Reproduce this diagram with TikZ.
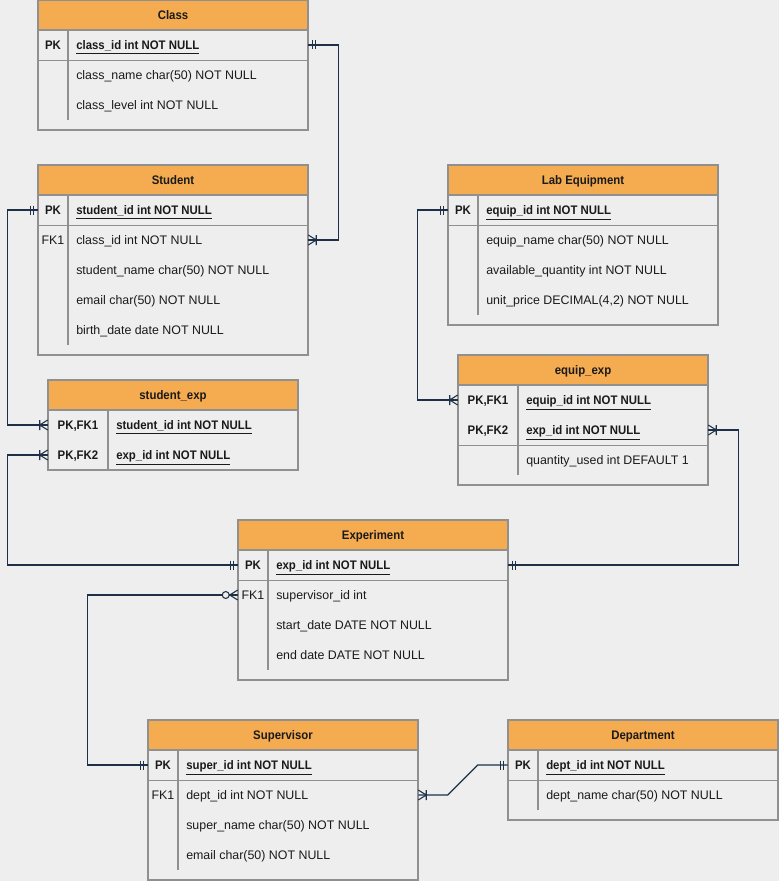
\documentclass[tikz,border=0pt]{standalone}
\usepackage{fontspec}
\setmainfont{Liberation Sans}
\newfontfamily\bnar{Liberation Sans}[FakeStretch=0.92]
\usetikzlibrary{fit}
\definecolor{bgc}{HTML}{EEEEEE}
\definecolor{hdrc}{HTML}{F5AB50}
\definecolor{bordc}{HTML}{909090}
\definecolor{connc}{HTML}{1D3048}
\definecolor{txtc}{HTML}{1A1A1A}
\newcommand{\fs}{\fontsize{9.3}{11}\selectfont}
\tikzset{
  tblline/.style={draw=bordc, line width=0.8pt},
  hdrbox/.style={inner sep=0pt, draw=bordc, fill=hdrc, line width=0.8pt},
  hdrtext/.style={anchor=base, yshift=-3.4pt, inner sep=0pt, font=\bnar\bfseries\fs, text=txtc},
  rowbox/.style={inner sep=0pt},
  keyb/.style={anchor=base, yshift=-3.4pt, inner sep=0pt, font=\bnar\bfseries\fs, text=txtc},
  keyn/.style={anchor=base, yshift=-3.4pt, inner sep=0pt, font=\fs, text=txtc},
  fldb/.style={anchor=base west, yshift=-3.4pt, inner sep=0pt, font=\bnar\bfseries\fs, text=txtc},
  fldn/.style={anchor=base west, yshift=-3.4pt, inner sep=0pt, font=\fs, text=txtc},
  conn/.style={draw=connc, line width=0.8pt},
  mandone/.pic={\draw[conn] (4,-4.5) -- (4,4.5) (7.5,-4.5) -- (7.5,4.5);},
  onemany/.pic={\draw[conn] (0,-5) -- (8,0) -- (0,5) (8,-5) -- (8,5);},
  zeromany/.pic={\draw[conn] (0,-5) -- (8,0) -- (0,5); \draw[conn, fill=bgc] (12,0) circle[radius=2.6pt];},
}
\newcommand{\ul}[1]{\underline{#1}}
\begin{document}
\begin{tikzpicture}[x=0.75pt,y=-0.75pt]
\fill[bgc] (0,0) rectangle (779,881);
\useasboundingbox (0,0) rectangle (779,881);

% ---------- Class ----------
\draw[tblline, fill=bgc] (38,0) rectangle (308,130);
\node[hdrbox, fit={(38,0)(308,30)}] (cls-h) {};
\node[hdrtext] (cls-t) at (cls-h.center) {Class};
\node[rowbox, fit={(38,30)(308,60)}] (cls-r1) {};
\node[rowbox, fit={(38,60)(308,90)}] (cls-r2) {};
\node[rowbox, fit={(38,90)(308,120)}] (cls-r3) {};
\draw[tblline] (cls-r1.south west) -- (cls-r1.south east);
\draw[tblline] (68,30) -- (68,120);
\node[keyb] (cls-k1) at (53,45) {PK};
\node[fldb] (cls-f1) at (76,45) {\ul{class\_id int NOT NULL}};
\node[fldn] (cls-f2) at (76,75) {class\_name char(50) NOT NULL};
\node[fldn] (cls-f3) at (76,105) {class\_level int NOT NULL};

% ---------- Student ----------
\draw[tblline, fill=bgc] (38,165) rectangle (308,355);
\node[hdrbox, fit={(38,165)(308,195)}] (stu-h) {};
\node[hdrtext] (stu-t) at (stu-h.center) {Student};
\node[rowbox, fit={(38,195)(308,225)}] (stu-r1) {};
\node[rowbox, fit={(38,225)(308,255)}] (stu-r2) {};
\node[rowbox, fit={(38,255)(308,285)}] (stu-r3) {};
\node[rowbox, fit={(38,285)(308,315)}] (stu-r4) {};
\node[rowbox, fit={(38,315)(308,345)}] (stu-r5) {};
\draw[tblline] (stu-r1.south west) -- (stu-r1.south east);
\draw[tblline] (68,195) -- (68,345);
\node[keyb] (stu-k1) at (53,210) {PK};
\node[fldb] (stu-f1) at (76,210) {\ul{student\_id int NOT NULL}};
\node[keyn] (stu-k2) at (53,240) {FK1};
\node[fldn] (stu-f2) at (76,240) {class\_id int NOT NULL};
\node[fldn] (stu-f3) at (76,270) {student\_name char(50) NOT NULL};
\node[fldn] (stu-f4) at (76,300) {email char(50) NOT NULL};
\node[fldn] (stu-f5) at (76,330) {birth\_date date NOT NULL};

% ---------- Lab Equipment ----------
\draw[tblline, fill=bgc] (448,165) rectangle (718,325);
\node[hdrbox, fit={(448,165)(718,195)}] (lab-h) {};
\node[hdrtext] (lab-t) at (lab-h.center) {Lab Equipment};
\node[rowbox, fit={(448,195)(718,225)}] (lab-r1) {};
\node[rowbox, fit={(448,225)(718,255)}] (lab-r2) {};
\node[rowbox, fit={(448,255)(718,285)}] (lab-r3) {};
\node[rowbox, fit={(448,285)(718,315)}] (lab-r4) {};
\draw[tblline] (lab-r1.south west) -- (lab-r1.south east);
\draw[tblline] (478,195) -- (478,315);
\node[keyb] (lab-k1) at (463,210) {PK};
\node[fldb] (lab-f1) at (486,210) {\ul{equip\_id int NOT NULL}};
\node[fldn] (lab-f2) at (486,240) {equip\_name char(50) NOT NULL};
\node[fldn] (lab-f3) at (486,270) {available\_quantity int NOT NULL};
\node[fldn] (lab-f4) at (486,300) {unit\_price DECIMAL(4,2) NOT NULL};

% ---------- student_exp ----------
\draw[tblline, fill=bgc] (48,380) rectangle (298,470);
\node[hdrbox, fit={(48,380)(298,410)}] (sx-h) {};
\node[hdrtext] (sx-t) at (sx-h.center) {student\_exp};
\node[rowbox, fit={(48,410)(298,440)}] (sx-r1) {};
\node[rowbox, fit={(48,440)(298,470)}] (sx-r2) {};
\draw[tblline] (108,410) -- (108,470);
\node[keyb] (sx-k1) at (78,425) {PK,FK1};
\node[fldb] (sx-f1) at (116,425) {\ul{student\_id int NOT NULL}};
\node[keyb] (sx-k2) at (78,455) {PK,FK2};
\node[fldb] (sx-f2) at (116,455) {\ul{exp\_id int NOT NULL}};

% ---------- equip_exp ----------
\draw[tblline, fill=bgc] (458,355) rectangle (708,485);
\node[hdrbox, fit={(458,355)(708,385)}] (ex-h) {};
\node[hdrtext] (ex-t) at (ex-h.center) {equip\_exp};
\node[rowbox, fit={(458,385)(708,415)}] (ex-r1) {};
\node[rowbox, fit={(458,415)(708,445)}] (ex-r2) {};
\node[rowbox, fit={(458,445)(708,475)}] (ex-r3) {};
\draw[tblline] (ex-r2.south west) -- (ex-r2.south east);
\draw[tblline] (518,385) -- (518,475);
\node[keyb] (ex-k1) at (488,400) {PK,FK1};
\node[fldb] (ex-f1) at (526,400) {\ul{equip\_id int NOT NULL}};
\node[keyb] (ex-k2) at (488,430) {PK,FK2};
\node[fldb] (ex-f2) at (526,430) {\ul{exp\_id int NOT NULL}};
\node[fldn] (ex-f3) at (526,460) {quantity\_used int DEFAULT 1};

% ---------- Experiment ----------
\draw[tblline, fill=bgc] (238,520) rectangle (508,680);
\node[hdrbox, fit={(238,520)(508,550)}] (exp-h) {};
\node[hdrtext] (exp-t) at (exp-h.center) {Experiment};
\node[rowbox, fit={(238,550)(508,580)}] (exp-r1) {};
\node[rowbox, fit={(238,580)(508,610)}] (exp-r2) {};
\node[rowbox, fit={(238,610)(508,640)}] (exp-r3) {};
\node[rowbox, fit={(238,640)(508,670)}] (exp-r4) {};
\draw[tblline] (exp-r1.south west) -- (exp-r1.south east);
\draw[tblline] (268,550) -- (268,670);
\node[keyb] (exp-k1) at (253,565) {PK};
\node[fldb] (exp-f1) at (276,565) {\ul{exp\_id int NOT NULL}};
\node[keyn] (exp-k2) at (253,595) {FK1};
\node[fldn] (exp-f2) at (276,595) {supervisor\_id int};
\node[fldn] (exp-f3) at (276,625) {start\_date DATE NOT NULL};
\node[fldn] (exp-f4) at (276,655) {end date DATE NOT NULL};

% ---------- Supervisor ----------
\draw[tblline, fill=bgc] (148,720) rectangle (418,880);
\node[hdrbox, fit={(148,720)(418,750)}] (sup-h) {};
\node[hdrtext] (sup-t) at (sup-h.center) {Supervisor};
\node[rowbox, fit={(148,750)(418,780)}] (sup-r1) {};
\node[rowbox, fit={(148,780)(418,810)}] (sup-r2) {};
\node[rowbox, fit={(148,810)(418,840)}] (sup-r3) {};
\node[rowbox, fit={(148,840)(418,870)}] (sup-r4) {};
\draw[tblline] (sup-r1.south west) -- (sup-r1.south east);
\draw[tblline] (178,750) -- (178,870);
\node[keyb] (sup-k1) at (163,765) {PK};
\node[fldb] (sup-f1) at (186,765) {\ul{super\_id int NOT NULL}};
\node[keyn] (sup-k2) at (163,795) {FK1};
\node[fldn] (sup-f2) at (186,795) {dept\_id int NOT NULL};
\node[fldn] (sup-f3) at (186,825) {super\_name char(50) NOT NULL};
\node[fldn] (sup-f4) at (186,855) {email char(50) NOT NULL};

% ---------- Department ----------
\draw[tblline, fill=bgc] (508,720) rectangle (778,820);
\node[hdrbox, fit={(508,720)(778,750)}] (dep-h) {};
\node[hdrtext] (dep-t) at (dep-h.center) {Department};
\node[rowbox, fit={(508,750)(778,780)}] (dep-r1) {};
\node[rowbox, fit={(508,780)(778,810)}] (dep-r2) {};
\draw[tblline] (dep-r1.south west) -- (dep-r1.south east);
\draw[tblline] (538,750) -- (538,810);
\node[keyb] (dep-k1) at (523,765) {PK};
\node[fldb] (dep-f1) at (546,765) {\ul{dept\_id int NOT NULL}};
\node[fldn] (dep-f2) at (546,795) {dept\_name char(50) NOT NULL};

% ---------- Connectors ----------
\draw[conn] (cls-r1.east) -- ++(30,0) |- (stu-r2.east);
\pic at (cls-r1.east) {mandone};
\pic at (stu-r2.east) {onemany};

\draw[conn] (stu-r1.west) -- ++(-30,0) |- (sx-r1.west);
\pic[xscale=-1] at (stu-r1.west) {mandone};
\pic[xscale=-1] at (sx-r1.west) {onemany};

\draw[conn] (exp-r1.west) -- ++(-230,0) |- (sx-r2.west);
\pic[xscale=-1] at (exp-r1.west) {mandone};
\pic[xscale=-1] at (sx-r2.west) {onemany};

\draw[conn] (lab-r1.west) -- ++(-30,0) |- (ex-r1.west);
\pic[xscale=-1] at (lab-r1.west) {mandone};
\pic[xscale=-1] at (ex-r1.west) {onemany};

\draw[conn] (exp-r1.east) -- ++(230,0) |- (ex-r2.east);
\pic at (exp-r1.east) {mandone};
\pic at (ex-r2.east) {onemany};

\draw[conn] (sup-r1.west) -- ++(-60,0) |- (exp-r2.west);
\pic[xscale=-1] at (sup-r1.west) {mandone};
\pic[xscale=-1] at (exp-r2.west) {zeromany};

\draw[conn] (dep-r1.west) -- ++(-30,0) -- ++(-30,30) -- (sup-r2.east);
\pic[xscale=-1] at (dep-r1.west) {mandone};
\pic at (sup-r2.east) {onemany};
\end{tikzpicture}
\end{document}
